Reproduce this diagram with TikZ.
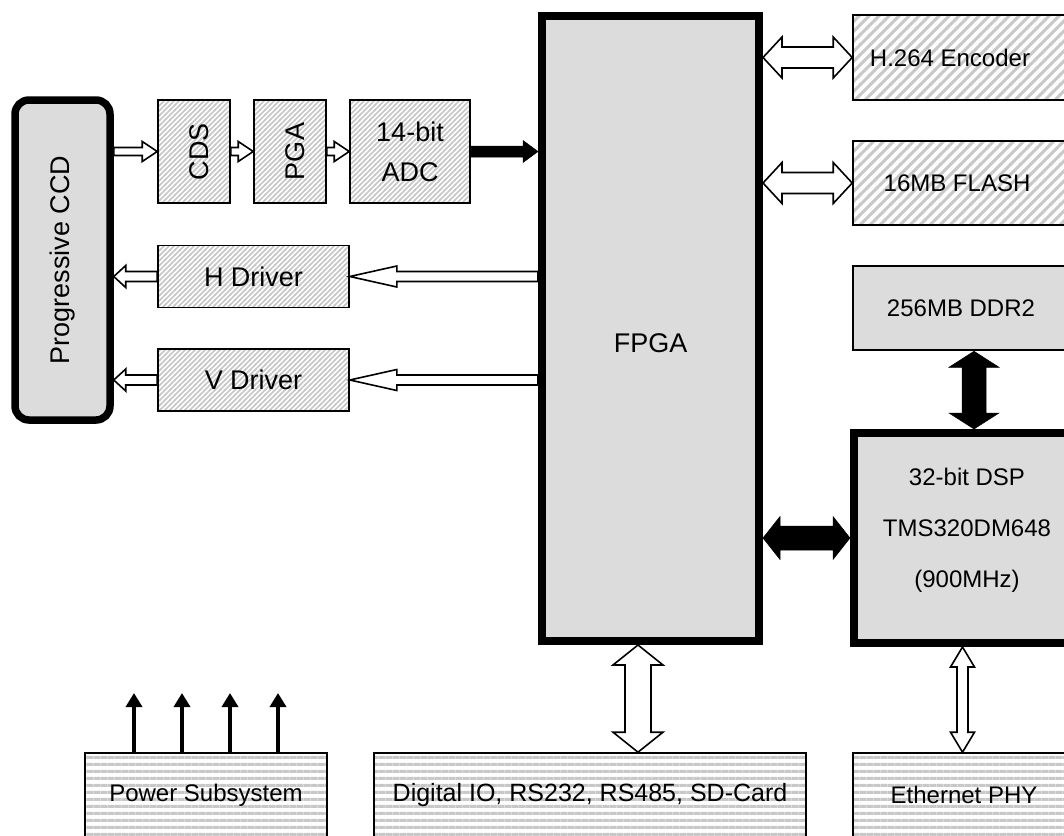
\documentclass[tikz,border=0pt]{standalone}
\usepackage{fontspec}
\setmainfont{Liberation Sans}
\usetikzlibrary{calc,patterns,arrows.meta}
\definecolor{boxgray}{RGB}{220,220,220}
\definecolor{hatchgray}{RGB}{200,200,200}
\pgfdeclarepatternformonly{dfine}{\pgfqpoint{-1pt}{-1pt}}{\pgfqpoint{6pt}{6pt}}{\pgfqpoint{5pt}{5pt}}{\pgfsetlinewidth{1.5pt}\pgfpathmoveto{\pgfqpoint{-1pt}{-1pt}}\pgfpathlineto{\pgfqpoint{6pt}{6pt}}\pgfusepath{stroke}}
\pgfdeclarepatternformonly{dcoarse}{\pgfqpoint{-1pt}{-1pt}}{\pgfqpoint{11pt}{11pt}}{\pgfqpoint{10pt}{10pt}}{\pgfsetlinewidth{3pt}\pgfpathmoveto{\pgfqpoint{-1pt}{-1pt}}\pgfpathlineto{\pgfqpoint{11pt}{11pt}}\pgfusepath{stroke}}
\pgfdeclarepatternformonly{hstripe}{\pgfqpoint{0pt}{0pt}}{\pgfqpoint{7.3pt}{7.3pt}}{\pgfqpoint{7.3pt}{7.3pt}}{\pgfpathrectangle{\pgfqpoint{0pt}{0pt}}{\pgfqpoint{7.3pt}{3.5pt}}\pgfusepath{fill}}
% horizontal single fat arrow: style, tail, tip, shaft half, head half, signed head length
\newcommand\HArrow[6]{\draw[#1] let \p1=(#2), \p2=(#3) in
  (\x1,{\y1+#4}) -- ({\x2-(#6)},{\y1+#4}) -- ({\x2-(#6)},{\y1+#5}) -- (\x2,\y1) --
  ({\x2-(#6)},{\y1-#5}) -- ({\x2-(#6)},{\y1-#4}) -- (\x1,{\y1-#4}) -- cycle;}
% horizontal double fat arrow: style, left, right, shaft half, head half, head length
\newcommand\HDArrow[6]{\draw[#1] let \p1=(#2), \p2=(#3) in
  (\x1,\y1) -- ({\x1+#6},{\y1+#5}) -- ({\x1+#6},{\y1+#4}) -- ({\x2-#6},{\y1+#4}) --
  ({\x2-#6},{\y1+#5}) -- (\x2,\y1) -- ({\x2-#6},{\y1-#5}) -- ({\x2-#6},{\y1-#4}) --
  ({\x1+#6},{\y1-#4}) -- ({\x1+#6},{\y1-#5}) -- cycle;}
% vertical double fat arrow: style, top, bottom, shaft half, head half, head length
\newcommand\VDArrow[6]{\draw[#1] let \p1=(#2), \p2=(#3) in
  (\x1,\y1) -- ({\x1+#5},{\y1-#6}) -- ({\x1+#4},{\y1-#6}) -- ({\x1+#4},{\y2+#6}) --
  ({\x1+#5},{\y2+#6}) -- (\x1,\y2) -- ({\x1-#5},{\y2+#6}) -- ({\x1-#4},{\y2+#6}) --
  ({\x1-#4},{\y1-#6}) -- ({\x1-#5},{\y1-#6}) -- cycle;}
\tikzset{
  box/.style={draw=black, line width=1.6pt, inner sep=0pt, align=center,
    font=\fontsize{24}{30}\selectfont},
  bigtext/.style={font=\fontsize{27}{40}\selectfont},
  finehatch/.style={preaction={fill=white}, pattern=dfine, pattern color=hatchgray},
  coarsehatch/.style={preaction={fill=white}, pattern=dcoarse, pattern color=hatchgray},
  stripes/.style={preaction={fill=white}, pattern=hstripe, pattern color=hatchgray},
  grayfill/.style={fill=boxgray},
  heavy/.style={line width=7.5pt},
  hollow/.style={draw=black, fill=white, line width=1.6pt, line join=miter},
  solidarr/.style={draw=black, fill=black, line width=0.5pt, line join=miter},
  pwr/.style={line width=4.5pt, -{Triangle[width=16pt,length=14pt]}},
}
\begin{document}
\begin{tikzpicture}[x=1pt, y=-1pt]
\path[use as bounding box] (0,0) rectangle (1064,835);
\clip (0,0) rectangle (1064,835);
% nodes
\node[box, bigtext, heavy, grayfill, rounded corners=14pt, minimum width=95pt, minimum height=320pt] (ccd) at (62.5,260) {\rotatebox{90}{Progressive CCD}};
\node[box, bigtext, finehatch, minimum width=72pt, minimum height=103pt] (cds) at (194,151.5) {\hspace*{10pt}\rotatebox{90}{CDS}};
\node[box, bigtext, finehatch, minimum width=72pt, minimum height=103pt] (pga) at (290,151.5) {\hspace*{10pt}\rotatebox{90}{PGA}};
\node[box, bigtext, finehatch, minimum width=120pt, minimum height=103pt] (adc) at (410,151.5) {14-bit\\ADC};
\node[box, bigtext, finehatch, minimum width=191pt, minimum height=62pt] (hdrv) at (253.5,276.5) {H Driver};
\node[box, bigtext, finehatch, minimum width=191pt, minimum height=62pt] (vdrv) at (253.5,380) {V Driver};
\node[box, bigtext, grayfill, line width=8pt, minimum width=217pt, minimum height=625pt] (fpga) at (650.5,328.5) {\raisebox{-23.5pt}[0pt][0pt]{FPGA}};
\node[box, coarsehatch, minimum width=222pt, minimum height=85pt] (h264) at (964,57.5) {H.264 Encoder\hspace*{28pt}};
\node[box, coarsehatch, minimum width=222pt, minimum height=84pt] (flash) at (964,183) {16MB FLASH\hspace*{14pt}};
\node[box, grayfill, line width=2.5pt, minimum width=222pt, minimum height=84pt] (ddr) at (964,308) {256MB DDR2\hspace*{6pt}};
\node[box, grayfill, line width=8pt, minimum width=226pt, minimum height=210pt, font=\fontsize{24}{51}\selectfont, text depth=21pt] (dsp) at (967,538) {32-bit DSP\\TMS320DM648\\(900MHz)};
\node[box, stripes, minimum width=242pt, minimum height=84pt] (pw) at (206,795) {Power Subsystem};
\node[box, stripes, minimum width=432pt, minimum height=84pt, font=\fontsize{25}{30}\selectfont] (dig) at (590,795) {Digital IO, RS232, RS485, SD-Card};
\node[box, stripes, minimum width=222pt, minimum height=84pt] (eth) at (964,795) {Ethernet PHY};
% helper coordinates
\coordinate (r1) at (0,151.5);
\coordinate (c1) at (974,0);
\coordinate (c2) at (638,0);
\coordinate (c3) at (962.5,0);
\coordinate (pp1) at (134,693);
\coordinate (pp2) at (182,693);
\coordinate (pp3) at (230,693);
\coordinate (pp4) at (278,693);
% connectors
\HArrow{hollow}{ccd.east |- r1}{cds.west |- r1}{4}{10}{15}
\HArrow{hollow}{cds.east |- r1}{pga.west |- r1}{4}{10}{15}
\HArrow{hollow}{pga.east |- r1}{adc.west |- r1}{4}{10}{15}
\HArrow{solidarr}{adc.east |- r1}{fpga.west |- r1}{5.5}{11}{15}
\HArrow{hollow}{fpga.west |- hdrv.east}{hdrv.east}{5}{10.5}{-47}
\HArrow{hollow}{fpga.west |- vdrv.east}{vdrv.east}{5}{10.5}{-47}
\HArrow{hollow}{hdrv.west}{ccd.east |- hdrv.west}{5}{11}{-12}
\HArrow{hollow}{vdrv.west}{ccd.east |- vdrv.west}{5}{11}{-12}
\HDArrow{hollow}{fpga.east |- h264.west}{h264.west}{10.5}{20.5}{19}
\HDArrow{hollow}{fpga.east |- flash.west}{flash.west}{10.5}{20.5}{19}
\HDArrow{solidarr}{fpga.east |- dsp.west}{dsp.west}{12}{21.5}{17}
\VDArrow{solidarr}{ddr.south -| c1}{dsp.north -| c1}{12}{25}{16}
\VDArrow{hollow}{fpga.south -| c2}{dig.north -| c2}{13}{25}{20}
\VDArrow{hollow}{dsp.south -| c3}{eth.north -| c3}{5.5}{12}{20}
\draw[pwr] (pw.north -| pp1) -- (pp1);
\draw[pwr] (pw.north -| pp2) -- (pp2);
\draw[pwr] (pw.north -| pp3) -- (pp3);
\draw[pwr] (pw.north -| pp4) -- (pp4);
\end{tikzpicture}
\end{document}
